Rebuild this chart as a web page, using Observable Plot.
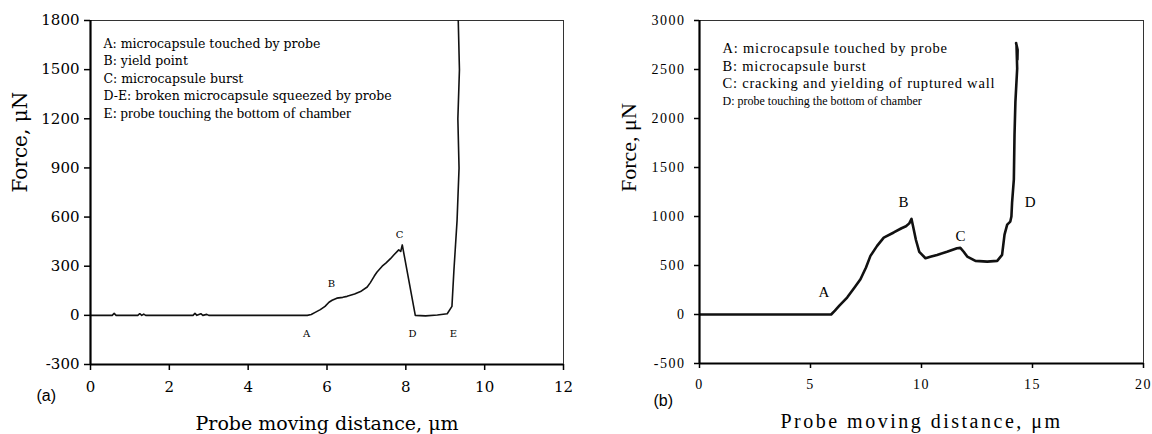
<!DOCTYPE html>
<html><head><meta charset="utf-8">
<script src="https://cdn.jsdelivr.net/npm/d3@7"></script>
<script src="https://cdn.jsdelivr.net/npm/@observablehq/plot@0.6"></script>
<style>
html,body{margin:0;padding:0;background:#fff;}
#wrap{position:relative;width:1152px;height:434px;overflow:hidden;}
#wrap svg{position:absolute;top:0;}
.pb g[aria-label="x-axis tick label"] text,.pb g[aria-label="y-axis tick label"] text{letter-spacing:1.5px;}
.pb .xl text{letter-spacing:2.5px;}
.pb .ann text{letter-spacing:0.8px;}
</style>
</head><body><div id="wrap"></div>
<script>
// Panel (a)
const distA = [0,0.55,0.6,0.65,1.2,1.25,1.3,1.35,1.4,2.6,2.65,2.7,2.8,2.85,2.95,3.0,5.5,5.6,5.7,5.83,5.95,6.05,6.13,6.25,6.4,6.51,6.7,6.85,7.02,7.1,7.2,7.27,7.4,7.5,7.61,7.7,7.82,7.87,7.91,8.24,8.5,8.8,9.05,9.17,9.22,9.30,9.35,9.32,9.36,9.33,9.33];
const forceA = [0,0,12,0,0,10,0,8,0,0,12,0,10,0,6,0,0,5,18,35,55,80,92,105,110,116,130,145,173,200,240,265,300,320,346,370,400,390,430,0,-3,2,10,55,275,580,900,1200,1500,1800,1900];
const xTicksA = [0,2,4,6,8,10,12];
const yTicksA = [-300,0,300,600,900,1200,1500,1800];
const notesA = ["A: microcapsule touched by probe","B: yield point","C: microcapsule burst","D-E: broken microcapsule squeezed by probe","E: probe touching the bottom of chamber"];
const ptLabelsA = ["A","B","C","D","E"];
const ptXA = [5.48,6.11,7.84,8.17,9.21];
const ptYA = [-110,195,494,-110,-110];

// Panel (b)
const distB = [0,5.93,6.1,6.3,6.65,7.0,7.25,7.5,7.7,8.0,8.3,8.75,9.1,9.3,9.45,9.55,9.62,9.75,9.9,10.18,10.4,10.7,11.15,11.6,11.75,11.9,12.06,12.43,12.96,13.41,13.63,13.74,13.86,14.0,14.05,14.08,14.16,14.19,14.23,14.31,14.28,14.26,14.33,14.32];
const forceB = [0,0,40,90,173,280,360,480,598,700,785,837,880,900,930,975,900,760,640,574,590,608,640,676,680,640,591,547,540,547,608,815,917,948,1000,1141,1379,1834,2170,2510,2748,2770,2700,2600];
const xTicksB = [0,5,10,15,20];
const yTicksB = [-500,0,500,1000,1500,2000,2500,3000];
const notesB = ["A: microcapsule touched by probe","B: microcapsule burst","C: cracking and yielding of ruptured wall","D: probe touching the bottom of chamber"];
const ptLabelsB = ["A","B","C","D"];
const ptXB = [5.6,9.19,11.76,14.9];
const ptYB = [224,1150,795,1150];

const xLabel = "Probe moving distance, \u03bcm";
const yLabel = "Force, \u03bcN";

const dataA = distA.map((d,i)=>({x:d,y:forceA[i]}));
const dataB = distB.map((d,i)=>({x:d,y:forceB[i]}));
const ptsA = ptLabelsA.map((t,i)=>({t,x:ptXA[i],y:ptYA[i]}));
const ptsB = ptLabelsB.map((t,i)=>({t,x:ptXB[i],y:ptYB[i]}));

const wide = "DejaVu Serif";
const times = "Liberation Serif";

const pa = Plot.plot({
  width: 576, height: 434,
  marginLeft: 90, marginRight: 13, marginTop: 20, marginBottom: 70,
  style: {fontFamily: wide, fontSize: "15px", color: "#000", background: "transparent"},
  x: {domain: [0,12]},
  y: {domain: [-300,1800]},
  marks: [
    Plot.ruleY([1800], {stroke: "#333", strokeWidth: 1}),
    Plot.ruleX([12], {stroke: "#333", strokeWidth: 1}),
    Plot.line(dataA, {x: "x", y: "y", stroke: "#111", strokeWidth: 1.6, clip: true}),
    Plot.ruleX([0], {stroke: "#000", strokeWidth: 2.2}),
    Plot.ruleY([-300], {stroke: "#000", strokeWidth: 2.2}),
    Plot.axisX({ticks: xTicksA, tickSize: 6, tickPadding: 11, tickFormat: d=>String(d), label: null, fontFamily: wide, fontSize: 15, strokeWidth: 1.5}),
    Plot.axisY({ticks: yTicksA, tickSize: 6, tickPadding: 5, tickFormat: d=>String(d), label: null, fontFamily: wide, fontSize: 15, strokeWidth: 1.5}),
    Plot.text(ptsA, {x: "x", y: "y", text: "t", fontFamily: wide, fontSize: 10}),
    ...notesA.map((t,i)=>Plot.text([t], {frameAnchor: "top-left", dx: 13, dy: 23 + i*17.5, textAnchor: "start", lineAnchor: "middle", fontFamily: i < 4 ? wide : times, fontSize: i < 4 ? 12.5 : 15})),
    Plot.text([xLabel], {frameAnchor: "bottom", dy: 59, fontFamily: wide, fontSize: 19, lineAnchor: "middle"}),
    Plot.text([yLabel], {frameAnchor: "left", dx: -70, dy: 0, rotate: -90, fontFamily: wide, fontSize: 20, lineAnchor: "middle"}),
    Plot.text(["(a)"], {frameAnchor: "bottom-left", dx: -54, dy: 31, fontFamily: "Liberation Sans", fontSize: 16, lineAnchor: "middle"})
  ]
});
pa.style.left = "0px";

const pb = Plot.plot({
  width: 576, height: 434,
  marginLeft: 123, marginRight: 9, marginTop: 20, marginBottom: 71,
  className: "pb",
  style: {fontFamily: times, fontSize: "14px", color: "#000", background: "transparent"},
  x: {domain: [0,20]},
  y: {domain: [-500,3000]},
  marks: [
    Plot.ruleY([3000], {stroke: "#333", strokeWidth: 1}),
    Plot.ruleX([20], {stroke: "#333", strokeWidth: 1}),
    Plot.line(dataB, {x: "x", y: "y", stroke: "#111", strokeWidth: 2.6, clip: true}),
    Plot.ruleX([0], {stroke: "#000", strokeWidth: 2.2}),
    Plot.ruleY([-500], {stroke: "#000", strokeWidth: 2.2}),
    Plot.axisX({ticks: xTicksB, tickSize: 5, tickPadding: 11, tickFormat: d=>String(d), label: null, fontFamily: times, fontSize: 14, strokeWidth: 1.5}),
    Plot.axisY({ticks: yTicksB, tickSize: 5, tickPadding: 9, tickFormat: d=>String(d), label: null, fontFamily: times, fontSize: 14, strokeWidth: 1.5}),
    Plot.text(ptsB, {x: "x", y: "y", text: "t", fontFamily: times, fontSize: 15}),
    ...notesB.map((t,i)=>Plot.text([t], {frameAnchor: "top-left", dx: 23, dy: 28 + i*17.6, textAnchor: "start", lineAnchor: "middle", fontFamily: times, fontSize: i < 3 ? 14.5 : 12, className: i < 3 ? "ann" : undefined})),
    Plot.text([xLabel], {frameAnchor: "bottom", dy: 58, fontFamily: times, fontSize: 20, lineAnchor: "middle", className: "xl"}),
    Plot.text([yLabel], {frameAnchor: "left", dx: -71, dy: 0, rotate: -90, fontFamily: times, fontSize: 22, lineAnchor: "middle"}),
    Plot.text(["(b)"], {frameAnchor: "bottom-left", dx: -46, dy: 37, fontFamily: "Liberation Sans", fontSize: 16, lineAnchor: "middle"})
  ]
});
pb.style.left = "576px";

const wrap = document.getElementById("wrap");
wrap.appendChild(pa);
wrap.appendChild(pb);
</script></body></html>
